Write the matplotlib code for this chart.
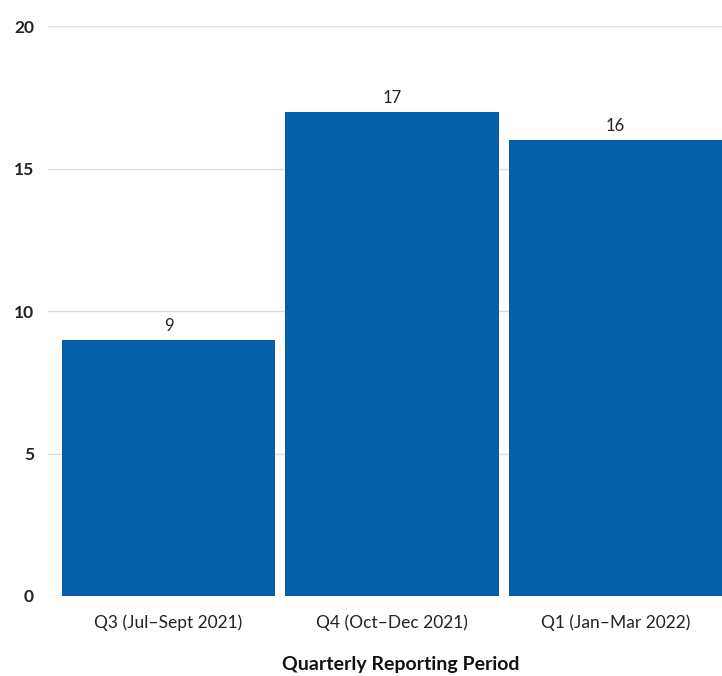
import numpy as np
import matplotlib.pyplot as plt

plt.rcParams['font.family'] = ['Lato', 'DejaVu Sans']

# Datos
periodos = ['Q3 (Jul\u2013Sept 2021)', 'Q4 (Oct\u2013Dec 2021)', 'Q1 (Jan\u2013Mar 2022)']
valores = [9, 17, 16]
y_ticks = [0, 5, 10, 15, 20]

color_barra = '#055ea8'

fig = plt.figure(figsize=(7.22, 6.76), dpi=100)
ax = fig.add_axes([48 / 722, 80 / 676, 1 - 48 / 722, 570 / 676])

x = np.arange(len(periodos))
barras = ax.bar(x, valores, width=0.955, color=color_barra, zorder=2)

# Etiquetas de valor sobre las barras
for xi, v in zip(x, valores):
    ax.annotate(str(v), (xi, v), xytext=(0, 4), textcoords='offset points',
                ha='center', va='bottom', fontsize=12, color='#222222')

ax.set_xlim(-0.54, 2.478)
ax.set_ylim(0, 20)
ax.set_yticks(y_ticks)
ax.set_yticklabels([str(t) for t in y_ticks], fontweight='bold', fontsize=12.5, color='#222222')
ax.set_xticks(x)
ax.set_xticklabels(periodos, fontsize=12.5, color='#222222')

ax.grid(axis='y', color='#dddddd', linewidth=1, zorder=0)
ax.tick_params(axis='both', length=0)
ax.tick_params(axis='y', pad=10)
ax.tick_params(axis='x', pad=13)
for s in ax.spines.values():
    s.set_visible(False)

ax.set_xlabel('Quarterly Reporting Period', fontsize=14, fontweight='bold', color='#111111')
ax.xaxis.set_label_coords((401 - 48) / 674, -0.105)

fig.savefig('out.png', dpi=100)
